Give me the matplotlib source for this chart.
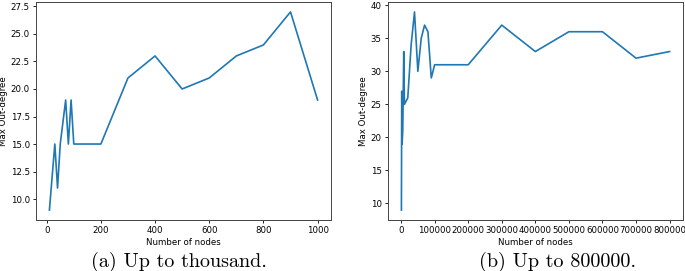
import matplotlib
matplotlib.use("Agg")
import matplotlib.pyplot as plt

# (a) up to thousand
nodes_a = [10, 20, 30, 40, 50, 60, 70, 80, 90, 100, 200, 300, 400, 500, 600, 700, 800, 900, 1000]
deg_a = [9, 12, 15, 11, 15, 17, 19, 15, 19, 15, 15, 21, 23, 20, 21, 23, 24, 27, 19]

# (b) up to 800000
nodes_b = [1000, 2000, 3000, 5000, 8000, 10000, 20000, 30000, 40000, 50000, 60000, 70000,
           80000, 90000, 100000, 200000, 300000, 400000, 500000, 600000, 700000, 800000]
deg_b = [9, 27, 19, 21, 33, 25, 26, 34, 39, 30, 35, 37, 36, 29, 31, 31, 37, 33, 36, 36, 32, 33]

caption_a = "(a) Up to thousand."
caption_b = "(b) Up to 800000."
xlabel = "Number of nodes"
ylabel = "Max Out-degree"

W, H = 685, 271
fig = plt.figure(figsize=(W / 100, H / 100), dpi=100)

fs = 6.2
ax1 = fig.add_axes([36 / W, (H - 220) / H, 295 / W, 218 / H])
ax2 = fig.add_axes([388 / W, (H - 220) / H, 295 / W, 218 / H])

for ax, x, y in [(ax1, nodes_a, deg_a), (ax2, nodes_b, deg_b)]:
    ax.plot(x, y, color="#1f77b4", linewidth=1.2)
    ax.set_xlabel(xlabel, fontsize=fs, labelpad=2)
    ax.set_ylabel(ylabel, fontsize=fs, labelpad=2)
    ax.tick_params(labelsize=fs, length=2.5, width=0.6, pad=2)
    for s in ax.spines.values():
        s.set_linewidth(0.7)
        s.set_color("#444444")

ax1.set_xticks([0, 200, 400, 600, 800, 1000])
ax1.set_yticks([10.0, 12.5, 15.0, 17.5, 20.0, 22.5, 25.0, 27.5])
ax2.set_xticks([0, 100000, 200000, 300000, 400000, 500000, 600000, 700000, 800000])
ax2.set_yticks([10, 15, 20, 25, 30, 35, 40])
ax2.ticklabel_format(axis="x", style="plain", useOffset=False)

fig.text(178.5 / W, (H - 262) / H, caption_a, fontfamily="cmr10", fontsize=14.5,
         ha="center", va="center")
fig.text(557.5 / W, (H - 262) / H, caption_b, fontfamily="cmr10", fontsize=14.5,
         ha="center", va="center")

fig.savefig("out.png", dpi=100)
